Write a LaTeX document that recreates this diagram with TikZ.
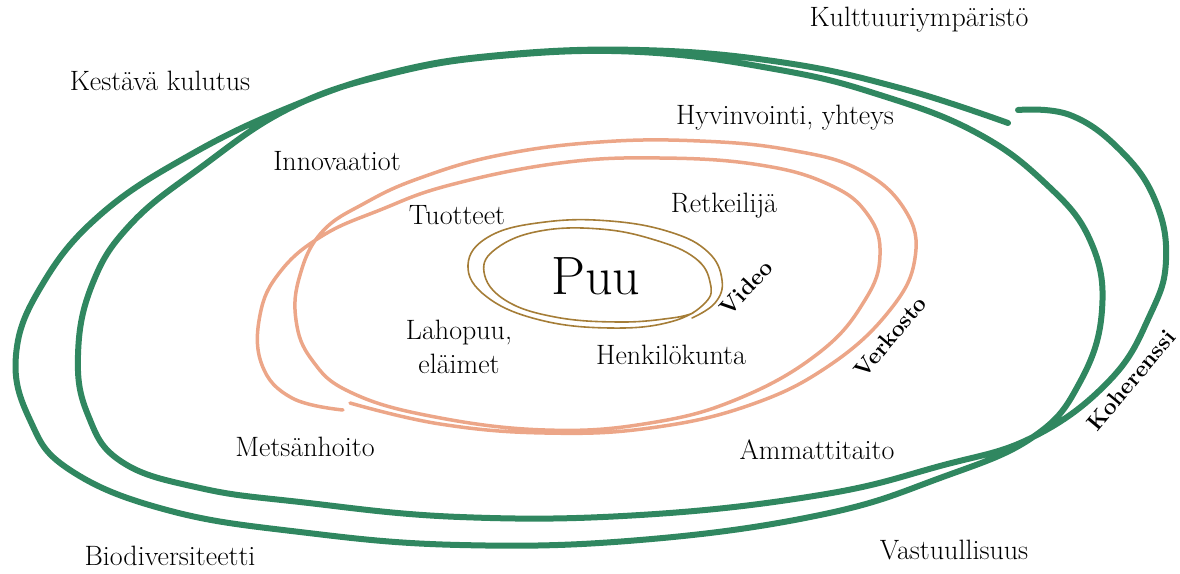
\documentclass[tikz,border=0pt]{standalone}
\usepackage{fontspec}
\usetikzlibrary{positioning}
\definecolor{metsa}{RGB}{48,135,96}
\definecolor{lohi}{RGB}{236,166,136}
\definecolor{ruskea}{RGB}{165,125,55}

\begin{document}
\begin{tikzpicture}[x=1pt, y=-1pt] %Puu ja kehät
    \tikzstyle{sana} = [font=\fontsize{28}{34}\selectfont, text centered, align=center, inner sep=0pt]
    \tikzstyle{vahva} = [font=\fontsize{23}{27}\selectfont\bfseries, inner sep=0pt]
    \tikzstyle{vihrea} = [draw=metsa, line width=6pt, line cap=round]
    \tikzstyle{oranssi} = [draw=lohi, line width=3.5pt, line cap=round]
    \tikzstyle{ruskea} = [draw=ruskea, line width=1.6pt, line cap=round]
    \useasboundingbox (0,0) rectangle (1180,573);
    % vihreä kehä
    \draw[vihrea] plot[smooth, tension=0.7] coordinates {(1008,123) (900,88) (780,62) (640,50) (500,55) (390,73) (290,107) (190,155) (100,215) (42,285) (16,355) (30,420) (70,470) (167,510) (300,532) (460,545) (640,540) (820,515) (940,478) (1033,437) (1080,382) (1102,310) (1090,240) (1045,183) (975,132) (880,95) (780,70) (640,52) (500,56) (390,74) (290,108) (200,168) (130,225) (92,285) (78,355) (88,415) (122,462) (200,488) (300,502) (460,517) (640,515) (820,495) (940,466) (1033,437) (1110,380) (1150,315) (1166,260) (1155,200) (1120,150) (1070,115) (1018,110)};
    % oranssi kehä
    \draw[oranssi] plot[smooth, tension=0.7] coordinates {(350,403) (440,424) (545,433) (650,428) (750,405) (830,365) (890,310) (915,258) (905,210) (860,170) (790,150) (700,141) (600,142) (500,155) (420,178) (365,203) (322,232) (300,275) (296,320) (312,360) (350,392) (430,416) (545,430) (650,423) (740,398) (820,352) (865,300) (880,255) (868,215) (830,185) (760,165) (660,158) (560,163) (450,185) (380,210) (322,236) (280,272) (260,315) (262,365) (292,398) (343,410)};
    % ruskea kehä
    \draw[ruskea] plot[smooth, tension=0.7] coordinates {(692,318) (715,303) (722,280) (708,252) (670,232) (610,221) (545,222) (490,236) (468,265) (487,297) (540,320) (610,328) (670,322) (705,303) (710,282) (695,258) (655,240) (600,229) (540,231) (497,248) (484,272) (505,300) (555,317) (620,322) (672,318) (693,313)};
    \node[sana, font=\fontsize{54}{60}\selectfont] (puu) at (596,276) {Puu};
    \foreach \nimi/\x/\y/\teksti in {kulttuuri/919/20/Kulttuuriympäristö, kulutus/160/81/Kestävä kulutus, hyvinvointi/785/118/{Hyvinvointi, yhteys}, innovaatiot/337/161/Innovaatiot, tuotteet/457/215/Tuotteet, retkeilija/724/206/Retkeilijä, lahopuu/459/347/{Lahopuu,\\eläimet}, henkilokunta/671/355/Henkilökunta, metsanhoito/305/447/Metsänhoito, ammattitaito/817/450/Ammattitaito, biodiversiteetti/170/556/Biodiversiteetti, vastuullisuus/954/550/Vastuullisuus}
    {
        \node[sana] (\nimi) at (\x,\y) {\teksti};
    }
    \foreach \nimi/\x/\y/\kulma/\teksti in {video/746/288/47/Video, verkosto/890/337/50/Verkosto, koherenssi/1131/380/50/Koherenssi}
    {
        \node[vahva, rotate=\kulma] (\nimi) at (\x,\y) {\teksti};
    }
\end{tikzpicture}
\end{document}
